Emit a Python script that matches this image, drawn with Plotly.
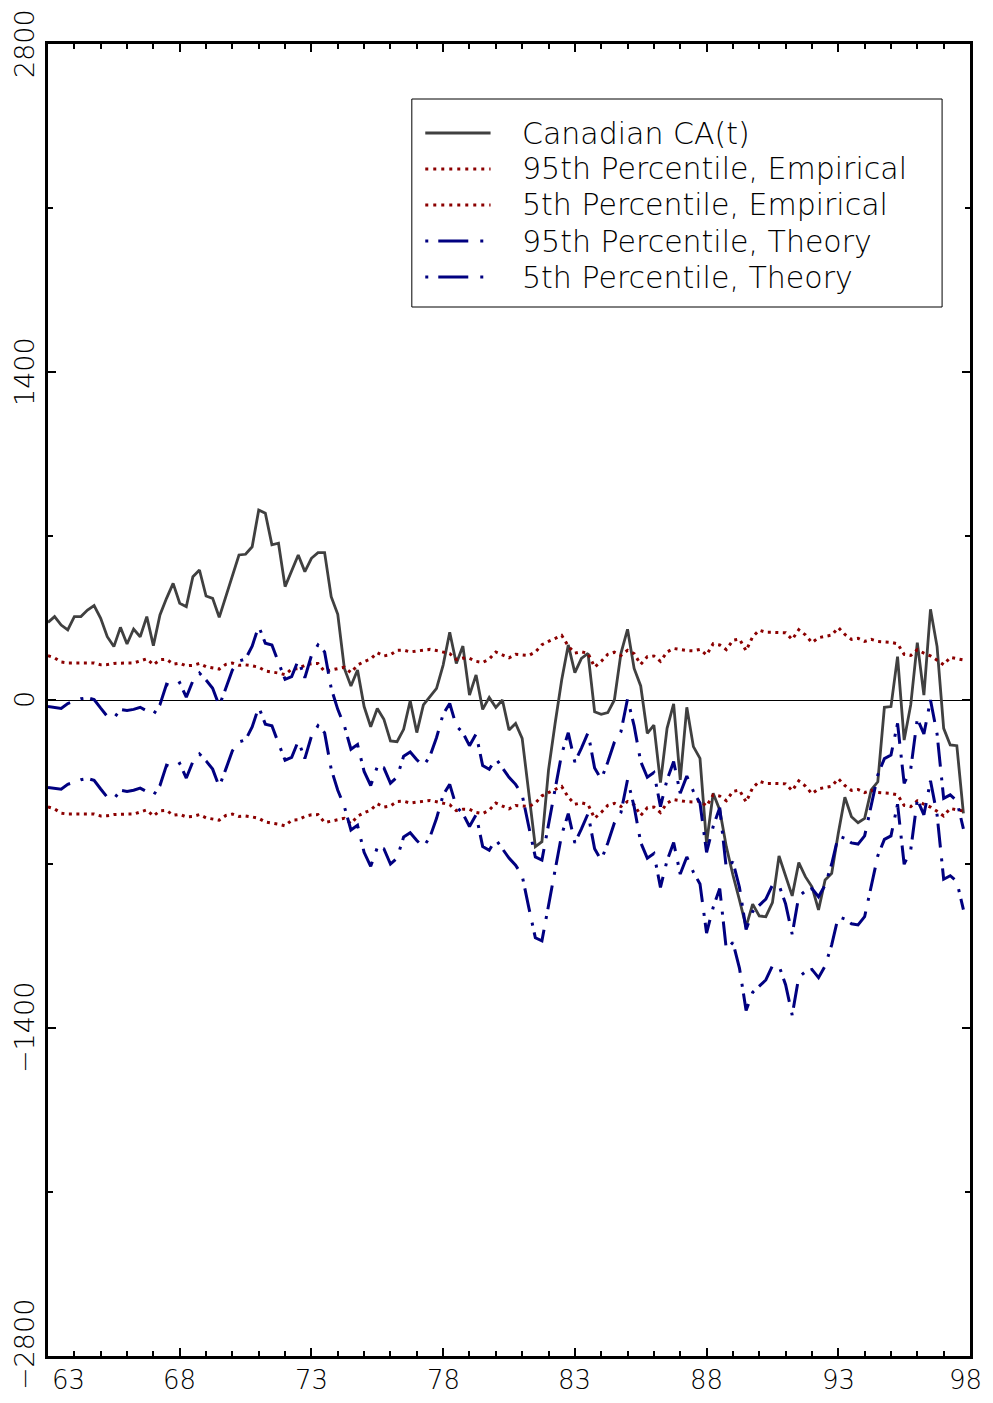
import plotly.graph_objects as go

# ---------------- data (quarterly, 1963Q1 .. 1997Q4) ----------------
START_YEAR = 63
canadian_ca = [331, 356, 320, 299, 356, 356, 384, 403, 349, 270,
               228, 310, 239, 303, 270, 356, 232, 363, 434, 498,
               413, 398, 526, 555, 444, 434, 353, 441, 534, 619,
               622, 654, 811, 797, 662, 669, 484, 548, 619, 548,
               605, 629, 629, 441, 366, 135, 60, 128, -28, -114,
               -36, -82, -175, -178, -125, -3, -139, -21, 14, 50,
               149, 289, 156, 230, 21, 107, -40, 11, -32, 0,
               -128, -100, -164, -384, -626, -605, -299, -100, 85, 235,
               117, 178, 199, -50, -61, -54, 0, 199, 302, 135,
               60, -142, -107, -353, -121, -17, -341, -31, -199, -249,
               -612, -398, -469, -626, -747, -854, -967, -871, -922, -925,
               -865, -666, -754, -836, -694, -754, -797, -896, -768, -740,
               -569, -415, -498, -524, -505, -384, -349, -31, -28, 185,
               -171, -21, 245, 21, 387, 228, -121, -192, -195, -484]

emp_95 = [189, 180, 162, 158, 158, 157, 156, 158, 150, 151, 156, 158, 158, 158, 166, 176, 150, 172, 174, 153, 157, 146, 148, 156,
          142, 138, 132, 152, 158, 148, 150, 146, 140, 124, 121, 115, 108, 132, 134, 148, 155, 156, 122, 128, 133, 140,
          117, 149, 164, 175, 202, 188, 193, 212, 213, 205, 209, 214, 216, 211, 206, 198, 173, 179, 178, 165, 160, 175, 205,
          192, 180, 195, 193, 190, 205, 236, 250, 262, 276, 230, 200, 206, 199, 140, 165, 195, 204, 190, 212, 198, 152, 185,
          188, 165, 205, 220, 214, 211, 210, 216, 192, 240, 235, 215, 255, 260, 210, 270, 298, 289, 289, 288, 287, 258,
          300, 278, 245, 266, 273, 277, 309, 280, 259, 263, 250, 259, 250, 248, 246, 240, 195, 190, 215, 200, 188, 170, 150, 182, 175, 171]

emp_5 = [-456, -465, -483, -487, -487, -488, -489, -487, -495, -494, -489, -487, -487, -487, -479, -469, -495, -473, -471, -492, -488, -499, -497, -489,
         -503, -507, -513, -493, -487, -497, -495, -499, -505, -521, -524, -530, -537, -513, -511, -497, -490, -489, -523, -517, -512, -505,
         -528, -496, -481, -470, -443, -457, -452, -433, -432, -440, -436, -431, -429, -434, -439, -447, -472, -466, -467, -480, -485, -470, -440,
         -453, -465, -450, -452, -455, -440, -409, -395, -383, -369, -415, -445, -439, -446, -505, -480, -450, -441, -455, -433, -447, -493, -460,
         -457, -480, -440, -425, -431, -434, -435, -429, -453, -405, -410, -430, -390, -385, -435, -375, -347, -356, -356, -357, -358, -387,
         -345, -367, -400, -379, -372, -368, -336, -365, -386, -382, -395, -386, -395, -397, -399, -405, -450, -455, -430, -445, -457, -475, -495, -463, -470, -474]

theory_95 = [-28, -32, -36, -15, -4, 5, 10, 2, -35, -70, -78, -40, -45, -40, -31, -45, -62, -20, 67, 57, 74, 12, 82, 115,
             85, 50, -25, 50, 128, 166, 175, 230, 315, 242, 235, 160, 88, 100, 170, 95, 190, 235, 205, 50, -40, -110,
             -210, -190, -305, -365, -285, -290, -355, -330, -240, -222, -255, -282, -240, -160, -60, -15, -110, -140, -195, -145, -280, -296,
             -250, -290, -330, -360, -405, -540, -670, -683, -530, -380, -230, -140, -265, -205, -140, -290, -339, -265, -180, -135, 5, -110, -263, -330,
             -310, -455, -340, -263, -398, -325, -390, -440, -650, -540, -460, -720, -690, -800, -980, -903, -878, -850, -790, -790, -870, -1000, -838, -815,
             -805, -840, -790, -700, -580, -590, -610, -615, -580, -450, -320, -250, -235, -100, -356, -295, -80, -145, 0, -145, -420, -405, -430, -550]

theory_5 = [-373, -377, -381, -360, -349, -340, -335, -343, -380, -415, -423, -385, -390, -385, -376, -390, -407, -365, -278, -288, -271, -333, -263, -230,
            -260, -295, -370, -295, -217, -179, -170, -115, -30, -103, -110, -185, -257, -245, -175, -250, -155, -110, -140, -295, -385, -455,
            -555, -535, -650, -710, -630, -635, -700, -675, -585, -567, -600, -627, -585, -505, -405, -360, -455, -485, -540, -490, -625, -641,
            -595, -635, -675, -705, -750, -885, -1015, -1028, -875, -725, -575, -485, -610, -550, -485, -635, -684, -610, -525, -480, -340, -455, -608, -675,
            -655, -800, -685, -608, -743, -670, -735, -785, -995, -885, -805, -1065, -1035, -1145, -1325, -1248, -1223, -1195, -1135, -1135, -1215, -1345, -1183, -1160,
            -1150, -1185, -1135, -1045, -925, -935, -955, -960, -925, -795, -665, -595, -580, -445, -701, -640, -425, -490, -345, -490, -765, -750, -775, -895]

series_names = ["Canadian CA(t)", "95th Percentile, Empirical", "5th Percentile, Empirical",
                "95th Percentile, Theory", "5th Percentile, Theory"]

x_tick_vals = [63, 68, 73, 78, 83, 88, 93, 98]
x_tick_labels = ["63", "68", "73", "78", "83", "88", "93", "98"]
y_tick_vals = [-2800, -1400, 0, 1400, 2800]
y_tick_labels = ["\u22122800", "\u22121400", "0", "1400", "2800"]
y_minor_vals = [-2100, -700, 700, 2100]

quarters = [START_YEAR + q / 4 for q in range(len(canadian_ca))]

# ---------------- styles ----------------
GRAY = "#404040"
RED = "#8b0000"
NAVY = "#000080"
FONT = "DejaVu Sans"
styles = [
    dict(color=GRAY, width=2.8, dash="solid"),
    dict(color=RED, width=3, dash="3px,4.5px"),
    dict(color=RED, width=3, dash="3px,4.5px"),
    dict(color=NAVY, width=3, dash="24px,11px,3px,7px"),
    dict(color=NAVY, width=3, dash="24px,11px,3px,7px"),
]
legend_dash = ["solid", "3px,5px", "3px,5px", "3px,10px,30px,12px", "3px,10px,30px,12px"]

fig = go.Figure()
for name, ys, st in zip(series_names, [canadian_ca, emp_95, emp_5, theory_95, theory_5], styles):
    fig.add_trace(go.Scatter(x=quarters, y=ys, mode="lines", name=name,
                             line=st, showlegend=False, hoverinfo="skip"))

# The page body has an 8px margin, so the figure is laid out 8px in from the window corner.
OFF = 8
WIN_W, WIN_H = 993, 1403
W, H = WIN_W - 2 * OFF, WIN_H - 2 * OFF
PL, PT, PR, PB = 48, 44, 973, 1356          # plot area in window pixels
ML, MT = PL - OFF, PT - OFF
MR = W - (PR - OFF)
MB = H - (PB - OFF)
PW, PH = PR - PL, PB - PT


def px_to_paper(px, py):
    return (px - PL) / PW, 1 - (py - PT) / PH


shapes = []
annotations = []

# legend box
bx0, by0 = px_to_paper(413, 307)
bx1, by1 = px_to_paper(945, 99)
shapes.append(dict(type="rect", xref="paper", yref="paper", x0=bx0, y0=by0, x1=bx1, y1=by1,
                   line=dict(color="black", width=1), fillcolor="white", layer="above"))
for k, (name, st) in enumerate(zip(series_names, styles)):
    py = 133 + 36 * k
    lx0, ly = px_to_paper(426.5, py)
    lx1, _ = px_to_paper(492, py)
    shapes.append(dict(type="line", xref="paper", yref="paper", x0=lx0, x1=lx1, y0=ly, y1=ly,
                       line=dict(color=st["color"], width=st["width"], dash=legend_dash[k]), layer="above"))
    tx, _ = px_to_paper(522, py)
    annotations.append(dict(text=name, xref="paper", yref="paper", x=tx, y=ly, xanchor="left",
                            yanchor="middle", showarrow=False,
                            font=dict(family=FONT, size=30, color="black", weight=200)))

# x tick labels (edge labels pulled inside as in the original)
for v, lab in zip(x_tick_vals, x_tick_labels):
    shift = 20 if v == x_tick_vals[0] else (-5 if v == x_tick_vals[-1] else 0)
    annotations.append(dict(text=lab, xref="x", yref="paper", x=v, y=0, xshift=shift, yshift=-24,
                            xanchor="center", yanchor="middle", showarrow=False,
                            font=dict(family=FONT, size=26, color="black", weight=200)))
# y tick labels, rotated
for v, lab in zip(y_tick_vals, y_tick_labels):
    yshift = 11 if v == y_tick_vals[0] else 0
    annotations.append(dict(text=lab, xref="paper", yref="y", x=0, y=v, xshift=-24, yshift=yshift,
                            xanchor="center", yanchor="middle", textangle=-90, showarrow=False,
                            font=dict(family=FONT, size=27, color="black", weight=200)))

fig.update_layout(
    width=W, height=H,
    margin=dict(l=ML, r=MR, t=MT, b=MB, pad=0),
    paper_bgcolor="white", plot_bgcolor="white",
    showlegend=False,
    shapes=shapes, annotations=annotations,
    xaxis=dict(range=[x_tick_vals[0], x_tick_vals[-1]], tickvals=x_tick_vals[1:-1],
               showticklabels=False, ticks="inside", ticklen=8, tickwidth=1.5, tickcolor="black",
               minor=dict(dtick=1, tick0=63, ticks="inside", ticklen=5, tickwidth=1.5, tickcolor="black"),
               showline=True, linewidth=3, linecolor="black", mirror="ticks",
               showgrid=False, zeroline=False),
    yaxis=dict(range=[y_tick_vals[0], y_tick_vals[-1]], tickvals=y_tick_vals,
               showticklabels=False, ticks="inside", ticklen=8, tickwidth=1.5, tickcolor="black",
               minor=dict(tickvals=y_minor_vals, ticks="inside", ticklen=5, tickwidth=1.5, tickcolor="black"),
               showline=True, linewidth=3, linecolor="black", mirror="ticks",
               showgrid=False, zeroline=True, zerolinecolor="black", zerolinewidth=1.2),
)

fig.write_html("out.html")
